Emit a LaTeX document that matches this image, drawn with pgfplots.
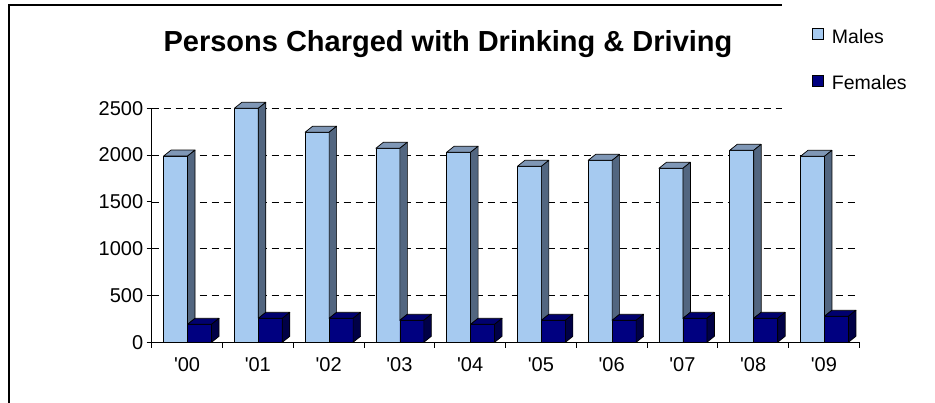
\documentclass[border=0pt]{standalone}
\usepackage{pgfplots}
\pgfplotsset{compat=1.18}
\usepackage{pgfplotstable}
\usepackage{fontspec}
\setmainfont{Liberation Sans}
\definecolor{mfront}{HTML}{A6CAF0}
\definecolor{mtop}{HTML}{7F97B6}
\definecolor{mside}{HTML}{526680}
\definecolor{ffront}{HTML}{000080}
\definecolor{ftop}{HTML}{00006E}
\definecolor{fside}{HTML}{000046}
\pgfplotstableread{
x m f b
0 1990 192 0
1 2500 256 0
2 2244 256 0
3 2073 235 0
4 2030 192 0
5 1880 235 0
6 1944 235 0
7 1859 256 0
8 2051 256 0
9 1987 278 0
}\data
\begin{document}
\begin{tikzpicture}
\useasboundingbox (0pt,0pt) rectangle (935pt,402pt);
\draw[line width=2pt] (9pt,-20pt) -- (9pt,396.5pt) -- (960pt,396.5pt);
\begin{axis}[
  at={(151.7pt,59.7pt)}, anchor=south west,
  scale only axis, width=707.6pt, height=234pt,
  xmin=-0.5, xmax=9.5, ymin=0, ymax=2500,
  enlargelimits=false, clip=false,
  axis lines*=left,
  axis line style={black, line width=0.9pt},
  xtick={0,...,9},
  xticklabels={\textquotesingle 00,\textquotesingle 01,\textquotesingle 02,\textquotesingle 03,\textquotesingle 04,\textquotesingle 05,\textquotesingle 06,\textquotesingle 07,\textquotesingle 08,\textquotesingle 09},
  minor xtick={-0.5,0.5,...,9.5},
  major x tick style={draw=none},
  minor x tick style={black, line width=0.9pt},
  minor tick length=5.5pt,
  major tick length=5pt,
  tick align=outside,
  ytick={0,500,...,2500},
  ytick style={black, line width=0.9pt},
  ymajorgrids,
  grid style={black, line width=0.8pt, dash pattern=on 7pt off 5pt},
  tick label style={font=\fontsize{20}{24}\selectfont},
  /pgf/number format/assume math mode=true,
  /pgf/number format/1000 sep={},
  xticklabel style={yshift=-7pt},
  title={Persons Charged with Drinking \& Driving},
  title style={at={(0.4187,1.2179)}, anchor=base, font=\fontsize{29}{34}\selectfont\bfseries},
  legend style={at={(0.8908,0.9714)}, anchor=south west, fill=white, draw=none,
    inner xsep=30pt, inner ysep=23.7pt, row sep=30pt, column sep=8pt,
    font=\fontsize{19.5}{23}\selectfont, nodes={inner sep=0pt}},
  legend cell align=left,
  legend image code/.code={\draw[#1, line width=0.7pt] (0pt,-2.7pt) rectangle (11pt,8.3pt);},
]
\addplot[ybar, bar width=24pt, bar shift=-11.5pt, fill=mfront, draw=black, line width=0.7pt]
  table[x=x,y=m]{\data};
\addlegendentry{Males}
\addplot[ybar, bar width=24pt, bar shift=12.5pt, fill=ffront, draw=black, line width=0.7pt]
  table[x=x,y=f]{\data};
\addlegendentry{Females}
\addplot[scatter, only marks, mark=*, mark size=0pt, forget plot,
  visualization depends on={\thisrow{m} \as \mval},
  visualization depends on={\thisrow{f} \as \fval},
  scatter/@pre marker code/.code={%
    \pgfmathsetmacro\mh{\mval*0.0936}%
    \pgfmathsetmacro\mht{\mh+6}%
    \pgfmathsetmacro\fh{\fval*0.0936}%
    \pgfmathsetmacro\fht{\fh+6}%
    \filldraw[fill=mtop, draw=black, line width=0.7pt, line join=round]
      (-23.5pt,\mh pt) -- (0.5pt,\mh pt) -- (8pt,\mht pt) -- (-16pt,\mht pt) -- cycle;
    \filldraw[fill=mside, draw=black, line width=0.7pt, line join=round]
      (0.5pt,\mh pt) -- (8pt,\mht pt) -- (8pt,\fht pt) -- (0.5pt,\fh pt) -- cycle;
    \filldraw[fill=ftop, draw=black, line width=0.7pt, line join=round]
      (0.5pt,\fh pt) -- (24.5pt,\fh pt) -- (32pt,\fht pt) -- (8pt,\fht pt) -- cycle;
    \filldraw[fill=fside, draw=black, line width=0.7pt, line join=round]
      (24.5pt,0pt) -- (32pt,6pt) -- (32pt,\fht pt) -- (24.5pt,\fh pt) -- cycle;
    \begin{scope}
  },
  scatter/@post marker code/.code={\end{scope}},
] table[x=x, y=b]{\data};
\end{axis}
\end{tikzpicture}
\end{document}
